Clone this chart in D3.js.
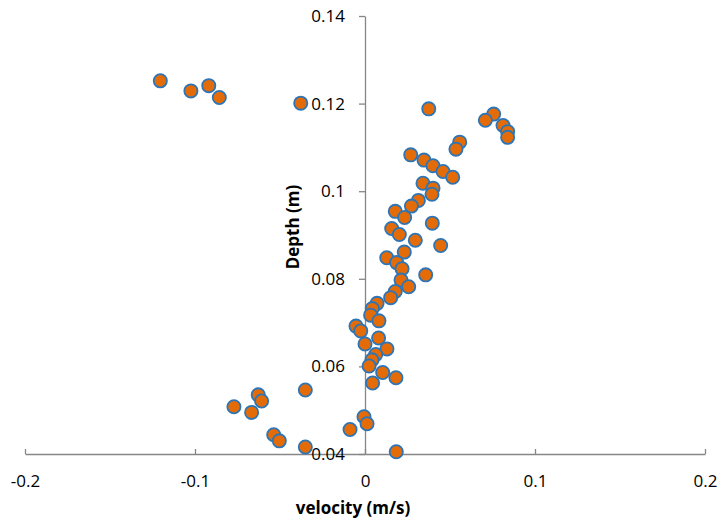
<!DOCTYPE html>
<html>
<head>
<meta charset="utf-8">
<script src="https://cdn.jsdelivr.net/npm/d3@7"></script>
<style>
  html, body { margin: 0; padding: 0; background: #fff; }
  svg { display: block; }
  text { font-family: "Open Sans", "Liberation Sans", sans-serif; fill: #000; }
</style>
</head>
<body>
<svg id="chart" width="719" height="518"></svg>
<script>
const velocity = [
  -0.1204, -0.1024, -0.0919, -0.0857, -0.0378, 0.0375, 0.0757, 0.0708, 0.0812, 0.0839,
  0.0839, 0.0557, 0.0535, 0.0269, 0.0347, 0.0400, 0.0459, 0.0516, 0.0341, 0.0400,
  0.0394, 0.0314, 0.0273, 0.0178, 0.0233, 0.0396, 0.0157, 0.0202, 0.0296, 0.0445,
  0.0231, 0.0128, 0.0186, 0.0218, 0.0357, 0.0212, 0.0257, 0.0178, 0.0151, 0.0071,
  0.0043, 0.0033, 0.0082, -0.0053, -0.0025, 0.0080, 0.0000, 0.0129, 0.0063, 0.0041,
  0.0024, 0.0104, 0.0182, 0.0045, -0.0351, -0.0628, -0.0608, -0.0771, -0.0667, -0.0006,
  0.0012, -0.0088, -0.0537, -0.0504, -0.0351, 0.0184
];
const depth = [
  0.1252, 0.1229, 0.1241, 0.1214, 0.1201, 0.1188, 0.1176, 0.1162, 0.1150, 0.1136,
  0.1123, 0.1112, 0.1096, 0.1083, 0.1071, 0.1058, 0.1045, 0.1032, 0.1018, 0.1007,
  0.0993, 0.0979, 0.0966, 0.0954, 0.0940, 0.0927, 0.0915, 0.0901, 0.0888, 0.0876,
  0.0861, 0.0848, 0.0837, 0.0823, 0.0809, 0.0797, 0.0782, 0.0771, 0.0757, 0.0744,
  0.0732, 0.0717, 0.0704, 0.0692, 0.0681, 0.0665, 0.0651, 0.0640, 0.0627, 0.0615,
  0.0601, 0.0586, 0.0574, 0.0562, 0.0546, 0.0535, 0.0521, 0.0508, 0.0495, 0.0485,
  0.0469, 0.0456, 0.0444, 0.0430, 0.0416, 0.0405
];
const xTicks = [-0.2, -0.1, 0, 0.1, 0.2];
const yTicks = [0.04, 0.06, 0.08, 0.1, 0.12, 0.14];
const xTitle = "velocity (m/s)";
const yTitle = "Depth (m)";

const svg = d3.select("#chart");
const x = d3.scaleLinear().domain([-0.2, 0.2]).range([25, 705]);
const y = d3.scaleLinear().domain([0.04, 0.14]).range([454, 16]);
const axisColor = "#868686";

// X axis (at depth 0.04)
const gx = svg.append("g")
  .attr("transform", `translate(0,${y(0.04)})`)
  .call(d3.axisBottom(x).tickValues(xTicks).tickFormat(d => String(d))
    .tickSizeInner(-5).tickSizeOuter(0).tickPadding(21));
gx.select(".domain").attr("stroke", axisColor).attr("stroke-width", 1.3);
gx.selectAll(".tick line").attr("stroke", axisColor).attr("stroke-width", 1.3);
gx.selectAll(".tick text").style("font-size", "17px").attr("fill", "#000");

// Y axis (at velocity 0)
const gy = svg.append("g")
  .attr("transform", `translate(${x(0)},0)`)
  .call(d3.axisLeft(y).tickValues(yTicks).tickFormat(d => String(+d.toFixed(2)))
    .tickSizeInner(6).tickSizeOuter(0).tickPadding(14));
gy.select(".domain").attr("stroke", axisColor).attr("stroke-width", 1.3);
gy.selectAll(".tick line").attr("stroke", axisColor).attr("stroke-width", 1.3);
gy.selectAll(".tick text").style("font-size", "17px").attr("fill", "#000");

// Titles
svg.append("text")
  .attr("x", 353).attr("y", 514)
  .attr("text-anchor", "middle")
  .style("font-size", "17px").style("font-weight", "bold")
  .text(xTitle);
svg.append("text")
  .attr("transform", `translate(299,227) rotate(-90)`)
  .attr("text-anchor", "middle")
  .style("font-size", "17px").style("font-weight", "bold")
  .text(yTitle);

// Points
const pts = velocity.map((v, i) => ({ v, d: depth[i] }));
svg.append("g").selectAll("circle")
  .data(pts)
  .join("circle")
  .attr("cx", p => x(p.v))
  .attr("cy", p => y(p.d))
  .attr("r", 6.6)
  .attr("fill", "#E36C09")
  .attr("stroke", "#2E75B6")
  .attr("stroke-width", 1.8);
</script>
</body>
</html>
